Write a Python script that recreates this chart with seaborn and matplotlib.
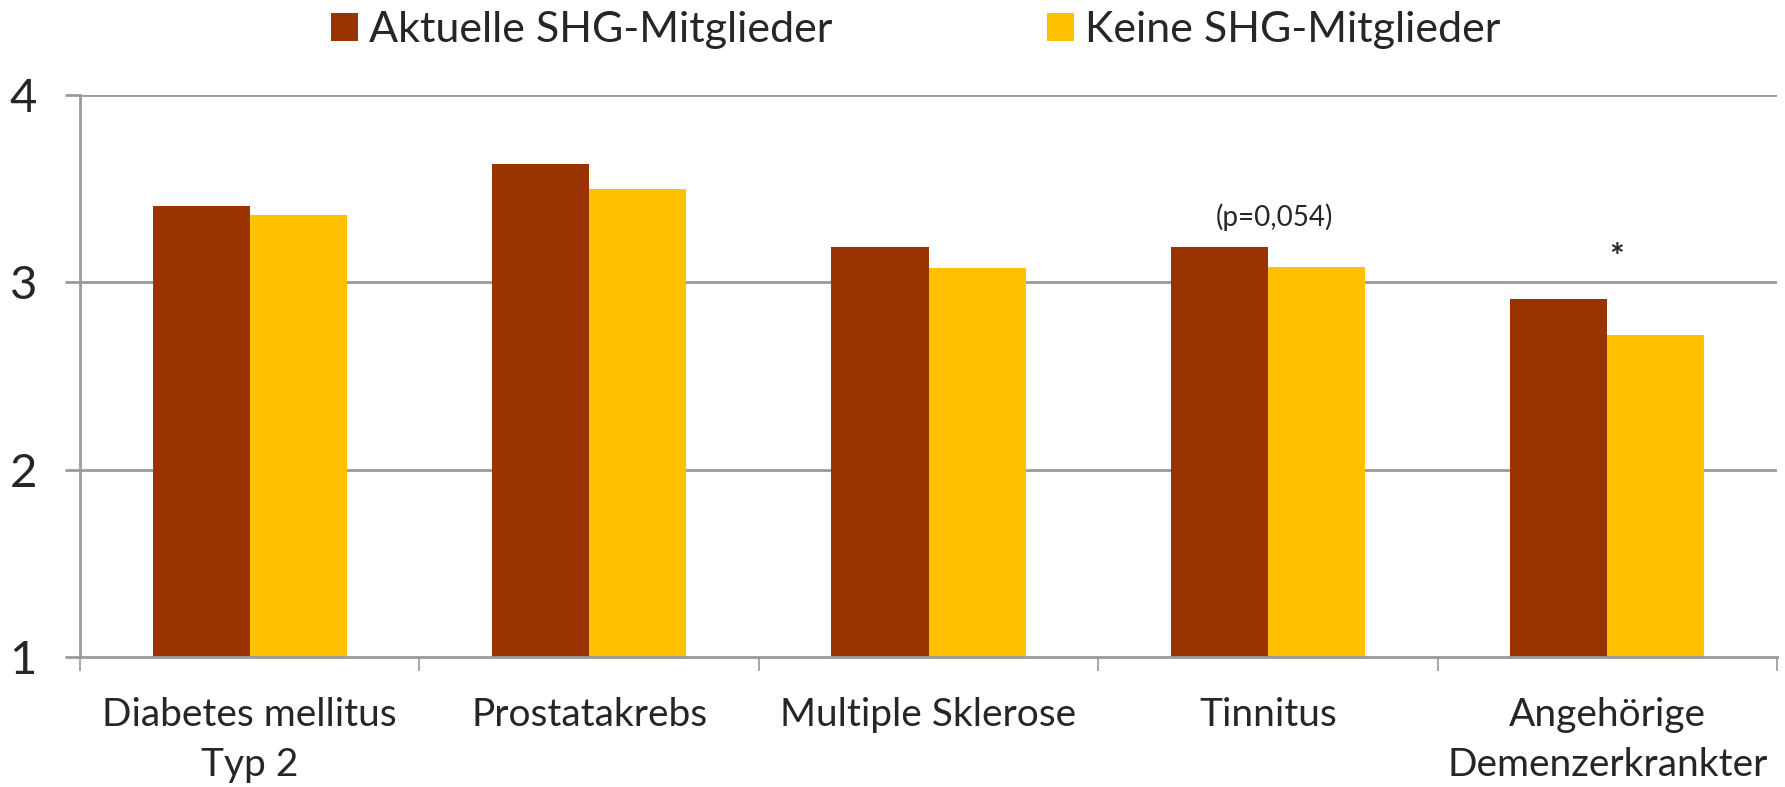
import matplotlib
matplotlib.use("Agg")
import matplotlib.pyplot as plt
import seaborn as sns
import pandas as pd
import numpy as np

# Values
categories = ["Diabetes mellitus\nTyp 2", "Prostatakrebs", "Multiple Sklerose",
              "Tinnitus", "Angehörige\nDemenzerkrankter"]
aktuelle = [3.41, 3.63, 3.19, 3.19, 2.91]
keine = [3.36, 3.50, 3.075, 3.08, 2.72]
series_names = ["Aktuelle SHG-Mitglieder", "Keine SHG-Mitglieder"]
colors = ["#993300", "#FFC000"]

df = pd.DataFrame({
    "Kategorie": categories * 2,
    "Wert": aktuelle + keine,
    "Gruppe": [series_names[0]] * len(categories) + [series_names[1]] * len(categories),
})

sns.set_theme(style="white")
plt.rcParams["font.family"] = ["Lato", "DejaVu Sans"]

fig = plt.figure(figsize=(17.85, 7.87), dpi=100)
ax = fig.add_axes([80 / 1785, 1 - 657 / 787, 1697 / 1785, 562 / 787])

sns.barplot(data=df, x="Kategorie", y="Wert", hue="Gruppe", palette=colors,
            width=0.572, gap=0, saturation=1, linewidth=0, ax=ax, legend=True)

ax.set_ylim(1, 4)
ax.set_xlim(-0.5, len(categories) - 0.5)
ax.set_yticks([1, 2, 3, 4])
ax.set_xlabel("")
ax.set_ylabel("")

grid_col = "#9a9a9a"
for y in [2, 3, 4]:
    ax.axhline(y, color=grid_col, lw=2, zorder=0)

for side in ["top", "right"]:
    ax.spines[side].set_visible(False)
for side in ["left", "bottom"]:
    ax.spines[side].set_color(grid_col)
    ax.spines[side].set_linewidth(2)

ax.tick_params(axis="y", length=11, width=2, color=grid_col, labelsize=34, pad=20,
               left=True)
ax.set_xticks(np.arange(-0.5, len(categories)), minor=True)
ax.tick_params(axis="x", which="minor", length=10, width=1.2, color=grid_col, bottom=True)
ax.tick_params(axis="x", which="major", length=0, labelsize=28, pad=29)
for lab in ax.get_xticklabels():
    lab.set_linespacing(1.46)

ax.text(3.02, 3.35, "(p=0,054)", ha="center", va="center", fontsize=20)
ax.text(4.027, 3.13, "*", ha="center", va="center", fontsize=25, fontweight="bold")

handles, labels = ax.get_legend_handles_labels()
ax.legend_.remove()
fig.legend(handles, labels, loc="center", bbox_to_anchor=(0.513, 0.962), ncol=2,
           frameon=False, fontsize=31, handlelength=0.63, handleheight=0.63,
           handletextpad=0.24, columnspacing=5.0, borderpad=0)

fig.savefig("out.png", dpi=100)
